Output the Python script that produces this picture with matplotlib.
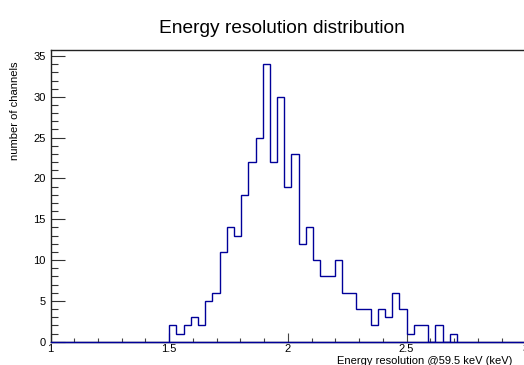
import numpy as np
import matplotlib
matplotlib.use("Agg")
import matplotlib.pyplot as plt
from matplotlib.ticker import MultipleLocator, FixedLocator, FixedFormatter

# ---- data ----
bin_start = 1.5
bin_width = 1.0 / 33.0
counts = [2, 1, 2, 3, 2, 5, 6, 11, 14, 13, 18, 22, 25, 34, 22, 30, 19, 23, 12, 14,
          10, 8, 8, 10, 6, 6, 4, 4, 2, 4, 3, 6, 4, 1, 2, 2, 0, 2, 0, 1]
x_range = [1.0, 3.0]
x_ticks = [1.0, 1.5, 2.0, 2.5, 3.0]
x_ticklabels = ["1", "1.5", "2", "2.5", "3"]
y_ticks = [0, 5, 10, 15, 20, 25, 30, 35]
y_ticklabels = ["0", "5", "10", "15", "20", "25", "30", "35"]
title = "Energy resolution distribution"
x_label = "Energy resolution @59.5 keV (keV)"
y_label = "number of channels"

plt.rcParams['font.family'] = ['Liberation Sans', 'DejaVu Sans']

W, H = 524, 365
fig = plt.figure(figsize=(W / 100, H / 100), dpi=100)

left_px, right_px = 50.5, 525.3
bottom_px, top_px = 341.7, 50.3
ax = fig.add_axes([left_px / W, 1 - bottom_px / H,
                   (right_px - left_px) / W, (bottom_px - top_px) / H])

line_color = '#000099'
edges = bin_start + np.arange(len(counts) + 1) * bin_width
ax.plot(x_range, [0, 0], color=line_color, lw=1.0, zorder=3, clip_on=False)
ax.stairs(counts, edges, baseline=0, fill=False, color=line_color, lw=1.0, zorder=3)

ax.set_xlim(*x_range)
ax.set_ylim(0, max(counts) * 1.05)

ax.xaxis.set_major_locator(FixedLocator(x_ticks))
ax.xaxis.set_major_formatter(FixedFormatter(x_ticklabels))
ax.xaxis.set_minor_locator(MultipleLocator(0.1))
ax.yaxis.set_major_locator(FixedLocator(y_ticks))
ax.yaxis.set_major_formatter(FixedFormatter(y_ticklabels))
ax.yaxis.set_minor_locator(MultipleLocator(1))

ax.tick_params(axis='x', which='major', direction='in', length=6.5, width=0.8,
               labelsize=8, pad=1.5, color='#444444')
ax.tick_params(axis='x', which='minor', direction='in', length=3.2, width=0.8, color='#444444')
ax.tick_params(axis='y', which='major', direction='in', length=10, width=0.8,
               labelsize=8, pad=3.5, color='#333333')
ax.tick_params(axis='y', which='minor', direction='in', length=5, width=0.8, color='#333333')

for s in ax.spines.values():
    s.set_color('#222222')
    s.set_linewidth(1.0)

fig.text(281.5 / W, 1 - 33.3 / H, title, ha='center', va='baseline', fontsize=13.8)
fig.text(512 / W, 0.002, x_label, ha='right', va='baseline', fontsize=8)
fig.text(15 / W, 1 - 61 / H, y_label, ha='center', va='top', rotation=90, fontsize=8)

fig.savefig("out.png", dpi=100)
